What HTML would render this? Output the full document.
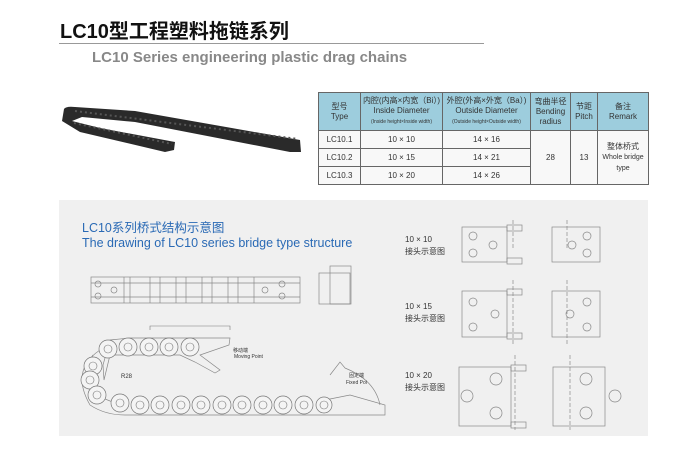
<!DOCTYPE html>
<html><head><meta charset="utf-8"><style>
body{margin:0;width:700px;height:451px;background:#fff;position:relative;overflow:hidden;font-family:"Liberation Sans","Noto Sans CJK SC",sans-serif}
.a{position:absolute;white-space:nowrap}
table{position:absolute;left:318px;top:92px;border-collapse:collapse;font-size:8px;color:#333;text-align:center}
td{border:1px solid #666;padding:0;line-height:10px}
.h td{background:#9dcddd;height:37px}
.r td{height:17px;background:#f8f8f8}
</style></head><body>
<div class="a" style="left:60px;top:15px;font-size:20px;font-weight:bold;color:#111">LC10型工程塑料拖链系列</div>
<div class="a" style="left:59px;top:43px;width:425px;height:1px;background:#999"></div>
<div class="a" style="left:92px;top:49px;font-size:15px;font-weight:bold;color:#888">LC10 Series engineering plastic drag chains</div>
<svg class="a" style="left:0;top:0" width="700" height="451">
<g>
<path d="M64,109 Q66,106 75,107 L135,111 L300,140 L301,152 L290,152 L135,122 L82,117 L72,121 L100,128 L175,142 L174,150 L165,152 L80,132 L62,121 Z" fill="#2a2a2a"/>
<path d="M75,111 L298,139" stroke="#555" stroke-width="2" stroke-dasharray="2 3"/>
<path d="M74,123 L172,144" stroke="#555" stroke-width="2" stroke-dasharray="2 3"/>
</g>
<rect x="59" y="200" width="589" height="236" fill="#f0f0f0"/>
<g fill="none" stroke="#888" stroke-width="0.7">
<rect x="91" y="277" width="209" height="26"/>
<line x1="91" y1="283" x2="300" y2="283"/><line x1="91" y1="297" x2="300" y2="297"/>
<circle cx="98" cy="284" r="3"/><circle cx="98" cy="296" r="3"/><circle cx="114" cy="290" r="3"/>
<circle cx="265" cy="290" r="3"/><circle cx="282" cy="284" r="3"/><circle cx="282" cy="296" r="3"/>
<path d="M124,277v26M130,277v26M150,277v26M160,277v26M176,277v26M186,277v26M202,277v26M212,277v26M228,277v26M238,277v26M254,277v26"/>
<rect x="319" y="273" width="31" height="31"/><rect x="330" y="266" width="21" height="38"/>
<path d="M104,380 L103,365 L110,340 L130,338 L190,338 L230,338 L229,345 L200,355 L220,370 L215,373 L195,362 L180,355 L110,355 Z"/>
<path d="M100,350 Q70,370 90,405 Q105,415 125,415 L330,415 L385,415 L385,405 L350,395 L325,400"/>
<path d="M330,375 L340,362 L345,368 Q375,380 380,405"/>
<path d="M93,355 Q80,375 95,395 L120,405"/>
</g>
<g fill="#f4f4f4" stroke="#777" stroke-width="0.7">
<circle cx="108" cy="349" r="9"/><circle cx="128" cy="347" r="9"/><circle cx="149" cy="347" r="9"/><circle cx="169" cy="347" r="9"/><circle cx="190" cy="347" r="9"/>
<circle cx="93" cy="366" r="9"/><circle cx="90" cy="380" r="9"/><circle cx="97" cy="395" r="9"/>
<circle cx="120" cy="403" r="9"/><circle cx="140" cy="405" r="9"/><circle cx="160" cy="405" r="9"/><circle cx="181" cy="405" r="9"/><circle cx="201" cy="405" r="9"/><circle cx="222" cy="405" r="9"/><circle cx="242" cy="405" r="9"/><circle cx="263" cy="405" r="9"/><circle cx="283" cy="405" r="9"/><circle cx="304" cy="405" r="9"/><circle cx="324" cy="405" r="8"/>
</g>
<g fill="none" stroke="#777" stroke-width="0.6">
<circle cx="108" cy="349" r="4"/><circle cx="128" cy="347" r="4"/><circle cx="149" cy="347" r="4"/><circle cx="169" cy="347" r="4"/><circle cx="190" cy="347" r="4"/>
<circle cx="93" cy="366" r="4"/><circle cx="90" cy="380" r="4"/><circle cx="97" cy="395" r="4"/>
<circle cx="120" cy="403" r="4"/><circle cx="140" cy="405" r="4"/><circle cx="160" cy="405" r="4"/><circle cx="181" cy="405" r="4"/><circle cx="201" cy="405" r="4"/><circle cx="222" cy="405" r="4"/><circle cx="242" cy="405" r="4"/><circle cx="263" cy="405" r="4"/><circle cx="283" cy="405" r="4"/><circle cx="304" cy="405" r="4"/><circle cx="324" cy="405" r="4"/>
<path d="M150,330 v-4 H230 v4"/>
</g>
<g font-size="5" fill="#333"><text x="233" y="352">移动端</text><text x="234" y="358">Moving Point</text><text x="349" y="377">固定端</text><text x="346" y="384">Fixed Poi</text></g>
<text x="121" y="378" font-size="6" fill="#333">R28</text>
<g fill="none" stroke="#888" stroke-width="0.7">
<rect x="462" y="227" width="45" height="35"/><rect x="507" y="225" width="15" height="6"/><rect x="507" y="258" width="15" height="6"/>
<circle cx="473" cy="236" r="4"/><circle cx="493" cy="245" r="4"/><circle cx="473" cy="253" r="4"/>
<rect x="552" y="227" width="48" height="35"/><circle cx="587" cy="236" r="4"/><circle cx="587" cy="253" r="4"/><circle cx="572" cy="245" r="4"/>
<rect x="462" y="291" width="45" height="46"/><rect x="507" y="289" width="15" height="6"/><rect x="507" y="333" width="15" height="6"/>
<circle cx="473" cy="302" r="4"/><circle cx="495" cy="314" r="4"/><circle cx="473" cy="327" r="4"/>
<rect x="552" y="291" width="48" height="46"/><circle cx="587" cy="302" r="4"/><circle cx="587" cy="327" r="4"/><circle cx="570" cy="314" r="4"/>
<rect x="459" y="367" width="52" height="59"/><rect x="511" y="365" width="15" height="6"/><rect x="511" y="422" width="15" height="6"/>
<circle cx="496" cy="379" r="6"/><circle cx="467" cy="396" r="6"/><circle cx="496" cy="413" r="6"/>
<rect x="553" y="367" width="52" height="59"/><circle cx="586" cy="379" r="6"/><circle cx="615" cy="396" r="6"/><circle cx="586" cy="413" r="6"/>
<path d="M513,220v30M513,280v65M515,355v75M567,220v30M567,280v65M570,355v75" stroke-dasharray="4 2"/>
</g>
</svg>
<div class="a" style="left:82px;top:217px;font-size:12.5px;color:#2a6ab5">LC10系列桥式结构示意图</div>
<div class="a" style="left:82px;top:236px;font-size:12.5px;color:#2a6ab5">The drawing of LC10 series bridge type structure</div>
<div class="a" style="left:405px;top:234px;font-size:8px;color:#333;line-height:12px">10 × 10<br>接头示意图</div>
<div class="a" style="left:405px;top:301px;font-size:8px;color:#333;line-height:12px">10 × 15<br>接头示意图</div>
<div class="a" style="left:405px;top:370px;font-size:8px;color:#333;line-height:12px">10 × 20<br>接头示意图</div>
<table>
<tr class="h"><td style="width:41px">型号<br>Type</td><td style="width:81px">内腔(内高×内宽（Bi）)<br>Inside Diameter<br><span style="font-size:5px">(Inside height×Inside width)</span></td><td style="width:87px">外腔(外高×外宽（Ba）)<br>Outside Diameter<br><span style="font-size:5px">(Outside height×Outside width)</span></td><td style="width:39px">弯曲半径<br>Bending<br>radius</td><td style="width:26px">节距<br>Pitch</td><td style="width:50px">备注<br>Remark</td></tr>
<tr class="r"><td>LC10.1</td><td>10 × 10</td><td>14 × 16</td><td rowspan="3">28</td><td rowspan="3">13</td><td rowspan="3">整体桥式<br><span style="font-size:7px">Whole bridge<br>type</span></td></tr>
<tr class="r"><td>LC10.2</td><td>10 × 15</td><td>14 × 21</td></tr>
<tr class="r"><td>LC10.3</td><td>10 × 20</td><td>14 × 26</td></tr>
</table>
</body></html>
